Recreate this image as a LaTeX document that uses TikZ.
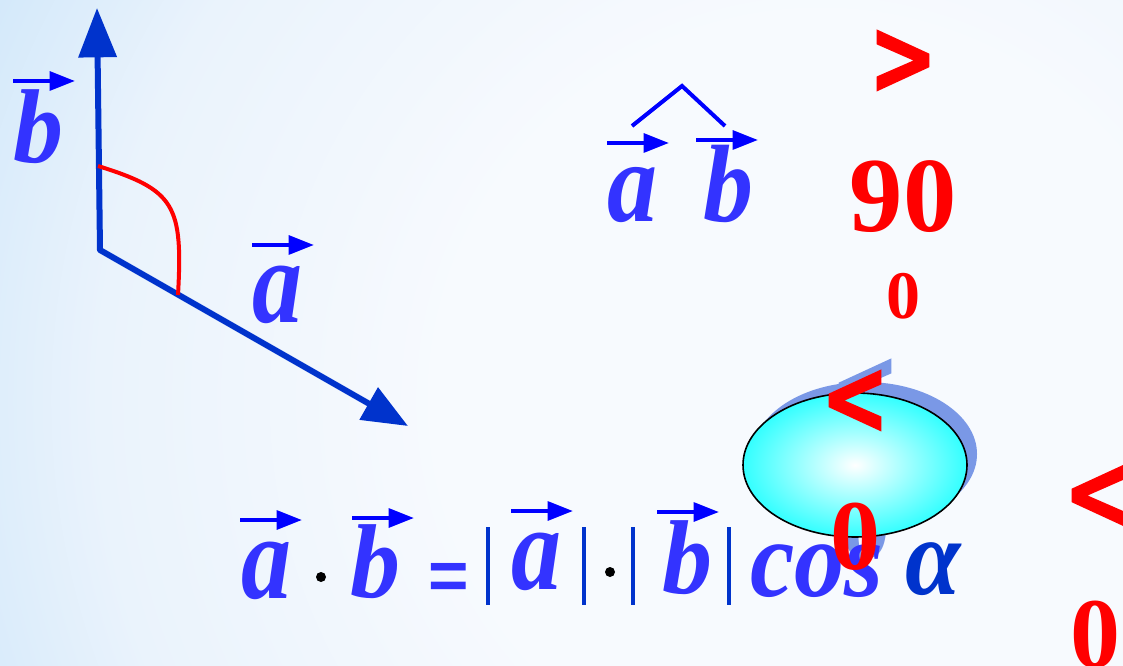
\documentclass[tikz,border=0pt]{standalone}
\usepackage{fontspec}
\setmainfont{Liberation Serif}
\newfontfamily\sansfam{Liberation Sans}
\newfontfamily\heavyfam[FakeBold=2]{DejaVu Sans Bold}
\usetikzlibrary{arrows.meta,shapes.geometric}
\definecolor{letterblue}{RGB}{51,51,255}
\definecolor{arrowblue}{RGB}{0,0,255}
\definecolor{vecblue}{RGB}{0,51,204}
\definecolor{redc}{RGB}{255,0,0}
\definecolor{shadowc}{RGB}{122,152,230}
\definecolor{cyanc}{RGB}{51,255,255}
\definecolor{bgin}{RGB}{247,250,254}
\definecolor{bgmid}{RGB}{234,243,252}
\definecolor{bgout}{RGB}{212,233,250}
\pgfdeclareradialshading{bgshade}{\pgfpoint{0bp}{0bp}}{color(0bp)=(bgin); color(10bp)=(bgin); color(19bp)=(bgmid); color(24bp)=(bgout); color(25bp)=(bgout)}
\begin{document}
\begin{tikzpicture}[x=0.75pt,y=-0.75pt,
  blet/.style={font=\fontsize{75}{80}\selectfont\bfseries\itshape, text=letterblue, anchor=base, inner sep=0pt},
  redt/.style={font=\fontsize{80}{90}\selectfont\bfseries, text=redc, inner sep=0pt},
  relt/.style={font=\heavyfam\fontsize{68}{80}\selectfont, text=redc, inner sep=0pt},
  acc/.style={draw=arrowblue, line width=3pt, -{Triangle[length=19pt,width=14pt]}},
  vec/.style={draw=vecblue, line width=4.5pt},
  vbar/.style={draw=vecblue, line width=3pt},
  dotn/.style={circle, fill=black, minimum size=7.5pt, inner sep=0pt}]
\useasboundingbox (0,0) rectangle (1123,666);
\begin{scope}
  \clip (0,0) rectangle (1123,666);
  \fill[bgin] (0,0) rectangle (1123,666);
  \shade[shading=bgshade] (820,400) circle (712pt);
\end{scope}

% vectors
\coordinate (O) at (100,250);
\coordinate (Bt) at (97,8);
\coordinate (At) at (408,426);
\draw[vec, -{Triangle[length=37pt,width=28pt]}] (O) -- (Bt);
\draw[vec, line cap=round, -{Triangle[length=34pt,width=27pt]}] (O) -- (At);
\coordinate (arcB) at (98,166);
\coordinate (arcA) at (178,295);
\draw[redc, line width=3pt] (arcB) .. controls (175,190) and (183,205) .. (arcA);

% labels of vectors
\node[blet] (bL) at (38,163) {\scalebox{1}[1.05]{b}};
\draw[acc] (13,81) -- (75,81);
\node[blet] (aL) at (277,322) {\scalebox{1}[1.2]{a}};
\draw[acc] (252,245) -- (314,245);

% angle notation
\node[blet] (aT) at (632,222) {\scalebox{1}[1.15]{a}};
\node[blet] (bT) at (728,222) {\scalebox{1}[1.1]{b}};
\draw[acc] (607,143) -- (669,143);
\draw[acc] (696,140) -- (758,140);
\draw[arrowblue, line width=3pt] (632,126) -- (682,86) -- (725,126);

% ellipse with shadow
\fill[shadowc] (865,454) ellipse [x radius=84pt, y radius=54pt];
\node[relt, text=shadowc] (ltS) at (865,391) {\scalebox{0.9}[1.15]{<}};
\node[redt, text=shadowc, anchor=base, font=\fontsize{75}{80}\selectfont\bfseries] (zS) at (865,558) {0};
\node[ellipse, draw=black, line width=1.2pt, inner color=white, outer color=cyanc,
      minimum width=168pt, minimum height=108pt] (ell) at (855,465) {};

% formula
\node[blet] (fa1) at (266,598) {\scalebox{1}[1.2]{a}};
\draw[acc] (240,520) -- (302,520);
\node[dotn] (d1) at (321,577) {};
\node[blet] (fb1) at (375,597) {\scalebox{1}[1.05]{b}};
\draw[acc] (352,518) -- (414,518);
\node[font=\sansfam\bfseries\fontsize{52}{55}\selectfont, text=letterblue, anchor=base, inner sep=0pt] (eq) at (449,599) {=};
\draw[vbar] (488,527) -- (488,605);
\node[blet] (fa2) at (536,589) {\scalebox{1}[1.2]{a}};
\draw[acc] (511,511) -- (573,511);
\draw[vbar] (584,527) -- (584,605);
\node[dotn] (d2) at (610,572) {};
\draw[vbar] (633,527) -- (633,605);
\node[blet] (fb2) at (687,593) {\scalebox{1}[1.05]{b}};
\draw[acc] (657,512) -- (719,512);
\draw[vbar] (729,527) -- (729,605);
\node[blet] (cos) at (817,596) {\scalebox{1}[1.1]{cos}};
\node[blet, text=vecblue] (alpha) at (933,594) {\scalebox{1}[1.1]{α}};

% red relations
\node[relt] (gt) at (903,62) {\scalebox{0.9}[1.15]{>}};
\node[redt, anchor=base] (n90) at (903,232) {90};
\node[redt, anchor=base, font=\fontsize{51}{55}\selectfont\bfseries] (deg) at (903,319) {0};
\node[relt] (ltE) at (855,402) {\scalebox{0.9}[1.15]{<}};
\node[redt, anchor=base, font=\fontsize{75}{80}\selectfont\bfseries] (z1) at (855,569) {0};
\node[relt] (ltR) at (1098,497) {\scalebox{0.9}[1.15]{<}};
\node[redt, anchor=base, font=\fontsize{75}{80}\selectfont\bfseries] (z2) at (1095,667) {0};
\end{tikzpicture}
\end{document}
